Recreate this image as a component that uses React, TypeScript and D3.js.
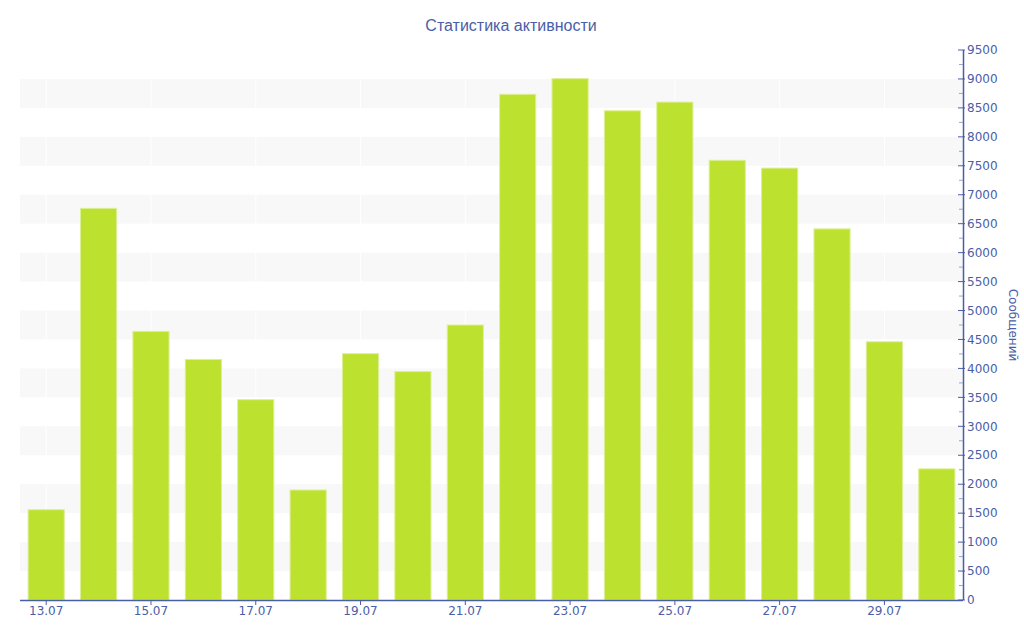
import React from "react";
import * as d3 from "d3";

const categories = ["13.07","14.07","15.07","16.07","17.07","18.07","19.07","20.07","21.07","22.07","23.07","24.07","25.07","26.07","27.07","28.07","29.07","30.07"];
const messages = [1560,6765,4640,4155,3460,1900,4255,3945,4750,8735,9005,8450,8600,7595,7460,6410,4460,2265];
const yTicks = d3.range(0, 9501, 500);
const yMinor = d3.range(250, 9500, 500);
const bandStarts = d3.range(500, 9000, 1000);

const W = 1024, H = 640;
const M = { left: 20, right: 61, top: 50, bottom: 40 };
const AXIS = "#4a5ea8";
const FONT = "Verdana, 'DejaVu Sans', sans-serif";
const TITLE_FONT = "Tahoma, 'Liberation Sans', Arial, sans-serif";

export default function App() {
  const x = d3.scaleBand<string>().domain(categories).range([M.left, W - M.right]).paddingInner(0.31).paddingOuter(0.155);
  const y = d3.scaleLinear().domain([0, 9500]).range([H - M.bottom, M.top]);
  const x0 = M.left, x1 = W - M.right, yb = H - M.bottom;
  return (
    <svg width={W} height={H} style={{ position: "absolute", left: 0, top: 0, background: "#fff" }}>
      {bandStarts.map(b => (
        <rect key={b} x={x0} y={y(b + 500)} width={x1 - x0} height={y(b) - y(b + 500)} fill="#f8f8f8" />
      ))}
      {categories.map((c, i) => i % 2 === 0 ? (
        <line key={"vg" + c} x1={x(c)! + x.bandwidth() / 2} x2={x(c)! + x.bandwidth() / 2} y1={M.top} y2={yb} stroke="#ffffff" strokeWidth={1} />
      ) : null)}
      {categories.map((c, i) => (
        <rect key={c} x={x(c)!} y={y(messages[i])} width={x.bandwidth()} height={yb - y(messages[i])}
          fill="#bde12f" stroke="#dcef95" strokeWidth={1} />
      ))}
      <line x1={x0} x2={x1} y1={yb + 0.5} y2={yb + 0.5} stroke={AXIS} strokeWidth={1.5} />
      {categories.map((c, i) => i % 2 === 0 ? (
        <g key={"xt" + c}>
          <line x1={x(c)! + x.bandwidth() / 2} x2={x(c)! + x.bandwidth() / 2} y1={yb} y2={yb + 5} stroke={AXIS} />
          <text x={x(c)! + x.bandwidth() / 2} y={yb + 15} textAnchor="middle" fontFamily={FONT} fontSize={12} fill={AXIS}>{c}</text>
        </g>
      ) : null)}
      <line x1={x1 + 0.5} x2={x1 + 0.5} y1={y(9500)} y2={yb} stroke={AXIS} strokeWidth={1.5} />
      {yMinor.map(t => (
        <line key={"ym" + t} x1={x1 - 4} x2={x1} y1={y(t)} y2={y(t)} stroke="#9aa4c8" />
      ))}
      {yTicks.map(t => (
        <g key={"yt" + t}>
          <line x1={x1 - 5} x2={x1 + 2} y1={y(t)} y2={y(t)} stroke={AXIS} />
          <text x={x1 + 4} y={y(t)} dy="0.35em" fontFamily={FONT} fontSize={12} fill={AXIS}>{t}</text>
        </g>
      ))}
      <text transform={`translate(1009,${(M.top + yb) / 2}) rotate(90)`} textAnchor="middle" fontFamily={FONT} fontSize={12} fill={AXIS}>Сообщений</text>
      <text x={511} y={31} textAnchor="middle" fontFamily={TITLE_FONT} fontSize={16} fill={AXIS}>Статистика активности</text>
    </svg>
  );
}
